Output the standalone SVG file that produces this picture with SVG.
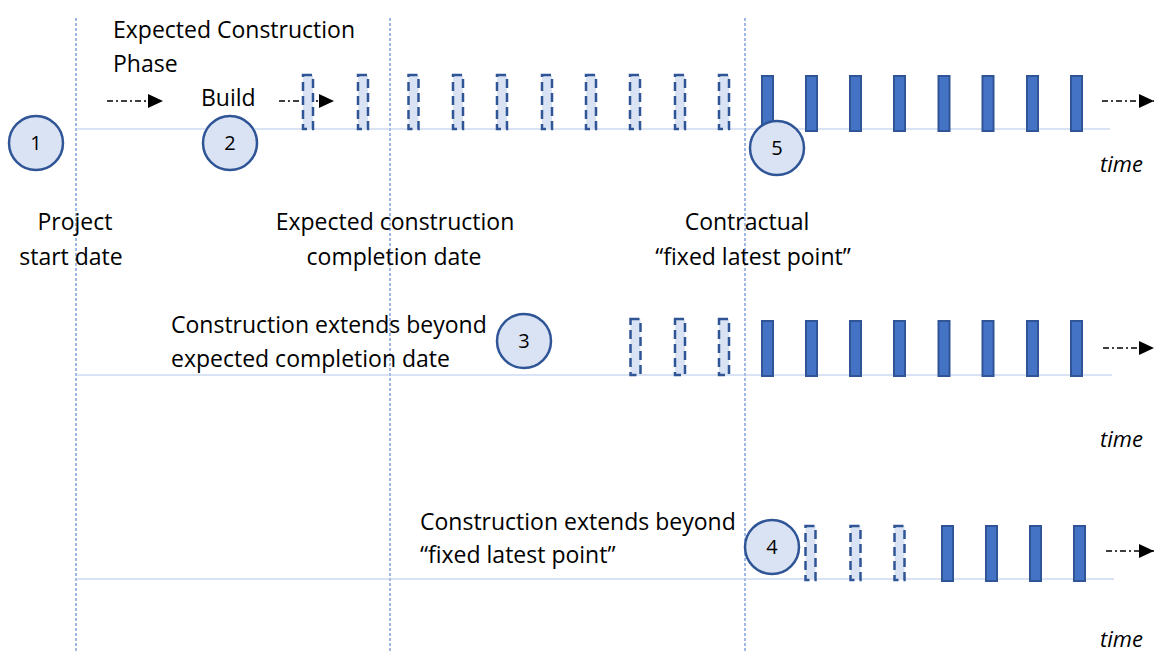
<svg xmlns="http://www.w3.org/2000/svg" width="1154" height="653" viewBox="0 0 1154 653">
  <defs>
    <marker id="tri" markerWidth="16" markerHeight="14" refX="15" refY="7" orient="auto" markerUnits="userSpaceOnUse">
      <path d="M0,0 L15,7 L0,14 Z" fill="#000"/>
    </marker>
    <style>
      text { font-family: "Open Sans", "Liberation Sans", sans-serif; font-size: 23px; fill: #000; }
      .num { font-size: 20px; text-anchor: middle; }
      .mid { text-anchor: middle; }
      .time { font-style: italic; font-size: 22px; }
      .vguide { stroke: #6f93d6; stroke-width: 1.3; stroke-dasharray: 3 2; fill: none; }
      .axis { stroke: #b4c7e7; stroke-width: 1.2; fill: none; }
      .flow { stroke: #000; stroke-width: 1.4; stroke-dasharray: 6 3 2 3; fill: none; marker-end: url(#tri); }
      .badge { fill: #dae3f3; stroke: #2f5597; stroke-width: 2.5; }
      .planned { fill: #dae3f3; stroke: #2f5597; stroke-width: 2.5; stroke-dasharray: 9 5; }
      .actual { fill: #4472c4; stroke: #2f5597; stroke-width: 2; }
    </style>
  </defs>

  <!-- milestone guides -->
  <g id="guides">
    <line class="vguide" x1="76" y1="18" x2="76" y2="653"/>
    <line class="vguide" x1="390" y1="18" x2="390" y2="653"/>
    <line class="vguide" x1="745" y1="18" x2="745" y2="653"/>
  </g>

  <!-- time axes -->
  <g id="axes">
    <line class="axis" x1="76" y1="129" x2="1110" y2="129"/>
    <line class="axis" x1="76" y1="375" x2="1112" y2="375"/>
    <line class="axis" x1="76" y1="579" x2="1114" y2="579"/>
  </g>

  <!-- connectors -->
  <g id="connectors">
    <line class="flow" x1="107" y1="101" x2="163" y2="101"/>
    <line class="flow" x1="279" y1="101" x2="334" y2="101"/>
    <line class="flow" x1="1102" y1="101" x2="1154" y2="101"/>
    <line class="flow" x1="1103" y1="348" x2="1154" y2="348"/>
    <line class="flow" x1="1106" y1="551" x2="1154" y2="551"/>
  </g>

  <!-- row 1: expected schedule -->
  <g id="row1-planned">
    <rect class="planned" x="303" y="75" width="10" height="54"/>
    <rect class="planned" x="358" y="75" width="10" height="54"/>
    <rect class="planned" x="408.5" y="75" width="10" height="54"/>
    <rect class="planned" x="453" y="75" width="10" height="54"/>
    <rect class="planned" x="497" y="75" width="10" height="54"/>
    <rect class="planned" x="542" y="75" width="10" height="54"/>
    <rect class="planned" x="586" y="75" width="10" height="54"/>
    <rect class="planned" x="630" y="75" width="10" height="54"/>
    <rect class="planned" x="675" y="75" width="10" height="54"/>
    <rect class="planned" x="719" y="75" width="10" height="54"/>
  </g>
  <g id="row1-actual">
    <rect class="actual" x="762" y="76" width="11" height="55"/>
    <rect class="actual" x="806" y="76" width="11" height="55"/>
    <rect class="actual" x="850" y="76" width="11" height="55"/>
    <rect class="actual" x="894" y="76" width="11" height="55"/>
    <rect class="actual" x="938.5" y="76" width="11" height="55"/>
    <rect class="actual" x="982.5" y="76" width="11" height="55"/>
    <rect class="actual" x="1027" y="76" width="11" height="55"/>
    <rect class="actual" x="1071" y="76" width="11" height="55"/>
  </g>

  <!-- row 2: delayed completion -->
  <g id="row2-planned">
    <rect class="planned" x="630.5" y="319" width="10" height="56"/>
    <rect class="planned" x="675" y="319" width="10" height="56"/>
    <rect class="planned" x="719" y="319" width="10" height="56"/>
  </g>
  <g id="row2-actual">
    <rect class="actual" x="762" y="321" width="11" height="55"/>
    <rect class="actual" x="806" y="321" width="11" height="55"/>
    <rect class="actual" x="850" y="321" width="11" height="55"/>
    <rect class="actual" x="894" y="321" width="11" height="55"/>
    <rect class="actual" x="938.5" y="321" width="11" height="55"/>
    <rect class="actual" x="982.5" y="321" width="11" height="55"/>
    <rect class="actual" x="1027" y="321" width="11" height="55"/>
    <rect class="actual" x="1071" y="321" width="11" height="55"/>
  </g>

  <!-- row 3: beyond fixed latest point -->
  <g id="row3-planned">
    <rect class="planned" x="805.5" y="526" width="10" height="54"/>
    <rect class="planned" x="850.5" y="526" width="10" height="54"/>
    <rect class="planned" x="894.5" y="526" width="10" height="54"/>
  </g>
  <g id="row3-actual">
    <rect class="actual" x="942" y="526" width="11" height="55"/>
    <rect class="actual" x="986" y="526" width="11" height="55"/>
    <rect class="actual" x="1030" y="526" width="11" height="55"/>
    <rect class="actual" x="1074" y="526" width="11" height="55"/>
  </g>

  <!-- numbered badges -->
  <g id="badge1"><circle class="badge" cx="36" cy="143" r="27"/><text class="num" x="36" y="150">1</text></g>
  <g id="badge2"><circle class="badge" cx="230" cy="143" r="27"/><text class="num" x="230" y="150">2</text></g>
  <g id="badge3"><circle class="badge" cx="524" cy="341" r="27"/><text class="num" x="524" y="348">3</text></g>
  <g id="badge4"><circle class="badge" cx="772" cy="547" r="27"/><text class="num" x="772" y="554">4</text></g>
  <g id="badge5"><circle class="badge" cx="777" cy="148" r="27"/><text class="num" x="777" y="155">5</text></g>

  <!-- labels -->
  <g id="labels">
    <text x="113" y="38">Expected Construction</text>
    <text x="113" y="72">Phase</text>
    <text x="201" y="106">Build</text>

    <text class="mid" x="75" y="230">Project</text>
    <text class="mid" x="71" y="265">start date</text>

    <text class="mid" x="395" y="230">Expected construction</text>
    <text class="mid" x="394" y="265">completion date</text>

    <text class="mid" x="747" y="230">Contractual</text>
    <text class="mid" x="753" y="265">“fixed latest point”</text>

    <text x="171" y="333">Construction extends beyond</text>
    <text x="171" y="367">expected completion date</text>

    <text x="420" y="530">Construction extends beyond</text>
    <text x="420" y="563"> “fixed latest point”</text>

    <text class="time" x="1100" y="172">time</text>
    <text class="time" x="1100" y="447">time</text>
    <text class="time" x="1100" y="647">time</text>
  </g>
</svg>
